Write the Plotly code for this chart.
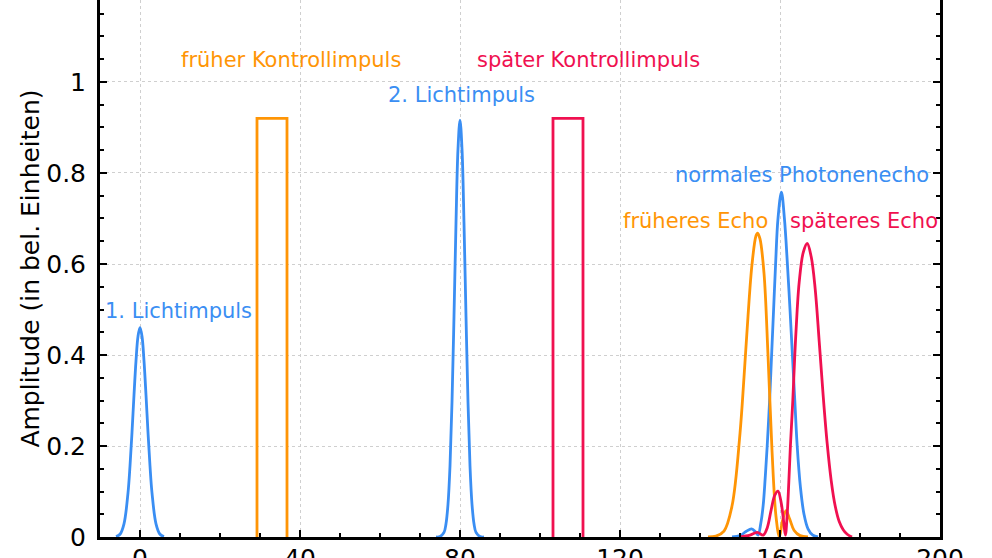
import plotly.graph_objects as go

# -------------------
# Data
# -------------------
# blue: the two light pulses and the normal photon echo
pulse1_x = [-6, -5, -4, -3, -2.5, -2, -1.5, -1, -0.5, 0, 0.5, 1, 1.5, 2, 2.5, 3, 4, 5, 6]
pulse1_y = [0.001, 0.006, 0.029, 0.097, 0.156, 0.23, 0.312, 0.387, 0.441, 0.46,
            0.441, 0.387, 0.312, 0.23, 0.156, 0.097, 0.029, 0.006, 0.001]

pulse2_x = [74, 75, 76, 76.5, 77, 77.5, 78, 78.5, 79, 79.5, 80, 80.5, 81, 81.5, 82,
            82.5, 83, 83.5, 84, 85, 86]
pulse2_y = [0.0, 0.001, 0.010, 0.029, 0.072, 0.156, 0.296, 0.485, 0.690, 0.853, 0.916,
            0.853, 0.690, 0.485, 0.296, 0.156, 0.072, 0.029, 0.010, 0.001, 0.0]

echo_normal_x = [148, 150, 151.5, 152.9, 153.8, 154.5, 155.2, 155.8, 156.3, 156.8, 157.4,
                 157.9, 158.4, 158.9, 159.5, 160.35, 161.1, 161.85, 162.5, 163.1, 163.7,
                 164.3, 165.1, 166.0, 167.0, 168.2, 169.5]
echo_normal_y = [0.0, 0.003, 0.012, 0.018, 0.012, 0.004, 0.03, 0.07, 0.13, 0.2, 0.3,
                 0.4, 0.5, 0.6, 0.7, 0.758, 0.7, 0.6, 0.5, 0.4, 0.3,
                 0.2, 0.11, 0.05, 0.018, 0.004, 0.0]

# orange: early control pulse and early echo
ctrl_early_x = [29.25, 29.25, 36.75, 36.75]
ctrl_early_y = [0, 0.92, 0.92, 0]

echo_early_x = [142, 144, 146, 148, 150, 151, 152, 153, 154, 154.4, 155, 156, 157, 158,
                159, 159.85, 160.6, 161.5, 162.4, 163.5, 165, 167]
echo_early_y = [0.0, 0.002, 0.013, 0.068, 0.228, 0.351, 0.485, 0.599, 0.662, 0.668, 0.655,
                0.58, 0.40, 0.19, 0.045, 0.0, 0.035, 0.058, 0.04, 0.015, 0.003, 0.0]

# crimson: late control pulse and late echo
ctrl_late_x = [103.25, 103.25, 110.75, 110.75]
ctrl_late_y = [0, 0.92, 0.92, 0]

echo_late_x = [150, 152.5, 154.3, 155.8, 156.8, 157.8, 158.7, 159.5, 160.3, 160.9, 161.35,
               161.8, 162.2, 162.6, 163.2, 163.7, 164.3, 164.8, 165.8, 166.8, 167.8, 168.8,
               169.8, 170.8, 171.8, 172.8, 173.8, 174.8, 175.8, 176.8, 178]
echo_late_y = [0.0, 0.004, 0.01, 0.004, 0.02, 0.06, 0.092, 0.101, 0.075, 0.035, 0.004,
               0.05, 0.12, 0.2, 0.3, 0.4, 0.5, 0.56, 0.625, 0.645, 0.616, 0.545,
               0.43, 0.31, 0.205, 0.124, 0.068, 0.034, 0.016, 0.006, 0.0]

# labels: text, x, y, colour key
labels = [
    ("früher Kontrollimpuls", 37.75, 1.048, "orange"),
    ("später Kontrollimpuls", 112.1, 1.048, "red"),
    ("2. Lichtimpuls", 80.4, 0.972, "blue"),
    ("1. Lichtimpuls", 9.7, 0.497, "blue"),
    ("normales Photonenecho", 165.5, 0.796, "blue"),
    ("früheres Echo", 138.8, 0.695, "orange"),
    ("späteres Echo", 180.9, 0.695, "red"),
]

x_tickvals = [0, 40, 80, 120, 160, 200]
x_ticktext = ["0", "40", "80", "120", "160", "200"]
y_tickvals = [0, 0.2, 0.4, 0.6, 0.8, 1.0, 1.2]
y_ticktext = ["0", "0.2", "0.4", "0.6", "0.8", "1", "1.2"]

X_RANGE = [-10, 200]
Y_RANGE = [0, 1.1802]   # top of the frame is cut off in the picture

colors = {
    "blue": "#3a8ef3",
    "orange": "#ff9505",
    "red": "#f01050",
}

FONT = "DejaVu Sans"
LW = 2.8

# -------------------
# Figure
# -------------------
fig = go.Figure()

blue_x = pulse1_x + [None] + pulse2_x + [None] + echo_normal_x
blue_y = pulse1_y + [None] + pulse2_y + [None] + echo_normal_y

fig.add_trace(go.Scatter(x=blue_x, y=blue_y, mode="lines",
                         line=dict(color=colors["blue"], width=LW, shape="spline"),
                         connectgaps=False))
fig.add_trace(go.Scatter(x=ctrl_early_x, y=ctrl_early_y, mode="lines",
                         line=dict(color=colors["orange"], width=LW)))
fig.add_trace(go.Scatter(x=echo_early_x, y=echo_early_y, mode="lines",
                         line=dict(color=colors["orange"], width=LW, shape="spline")))
fig.add_trace(go.Scatter(x=ctrl_late_x, y=ctrl_late_y, mode="lines",
                         line=dict(color=colors["red"], width=LW)))
fig.add_trace(go.Scatter(x=echo_late_x, y=echo_late_y, mode="lines",
                         line=dict(color=colors["red"], width=LW, shape="spline")))

for text, lx, ly, ckey in labels:
    fig.add_annotation(x=lx, y=ly, xref="x", yref="y", text=text, showarrow=False,
                       xanchor="center", yanchor="middle",
                       font=dict(family=FONT, size=21, color=colors[ckey]))

# the 1.2 tick label sits just above the visible area (only its foot shows)
fig.add_annotation(x=-0.011, y=y_tickvals[-1] / Y_RANGE[1], xref="paper", yref="paper",
                   text=y_ticktext[-1], showarrow=False, xanchor="right", yanchor="middle",
                   font=dict(family=FONT, size=25, color="black"))

fig.update_layout(
    width=992,
    height=558,
    margin=dict(l=100, r=52, t=0, b=21),
    plot_bgcolor="white",
    paper_bgcolor="white",
    showlegend=False,
    font=dict(family=FONT, size=25, color="black"),
)

axis_common = dict(
    tickmode="array",
    ticks="inside",
    ticklen=7,
    tickwidth=2,
    tickcolor="black",
    showline=True,
    linecolor="black",
    linewidth=3,
    showgrid=True,
    gridcolor="#cfcfcf",
    griddash="dot",
    gridwidth=1,
    zeroline=False,
    automargin=False,
    tickfont=dict(family=FONT, size=25),
)

fig.update_xaxes(
    range=X_RANGE,
    tickvals=x_tickvals,
    ticktext=x_ticktext,
    mirror=False,
    ticklabelstandoff=-3,
    minor=dict(tick0=0, dtick=10, ticks="inside", ticklen=4, tickwidth=2,
               tickcolor="black", showgrid=False),
    **axis_common,
)

fig.update_yaxes(
    range=Y_RANGE,
    tickvals=y_tickvals,
    ticktext=y_ticktext,
    mirror="allticks",
    ticklabelstandoff=6,
    title=dict(text="Amplitude (in bel. Einheiten)", font=dict(family=FONT, size=25),
               standoff=0),
    minor=dict(tick0=0, dtick=0.05, ticks="inside", ticklen=4, tickwidth=2,
               tickcolor="black", showgrid=False),
    **axis_common,
)

# page body margin would shift the figure by 8px
fig.write_html("out.html", config={"displayModeBar": False},
               post_script="document.body.style.margin='0';")
